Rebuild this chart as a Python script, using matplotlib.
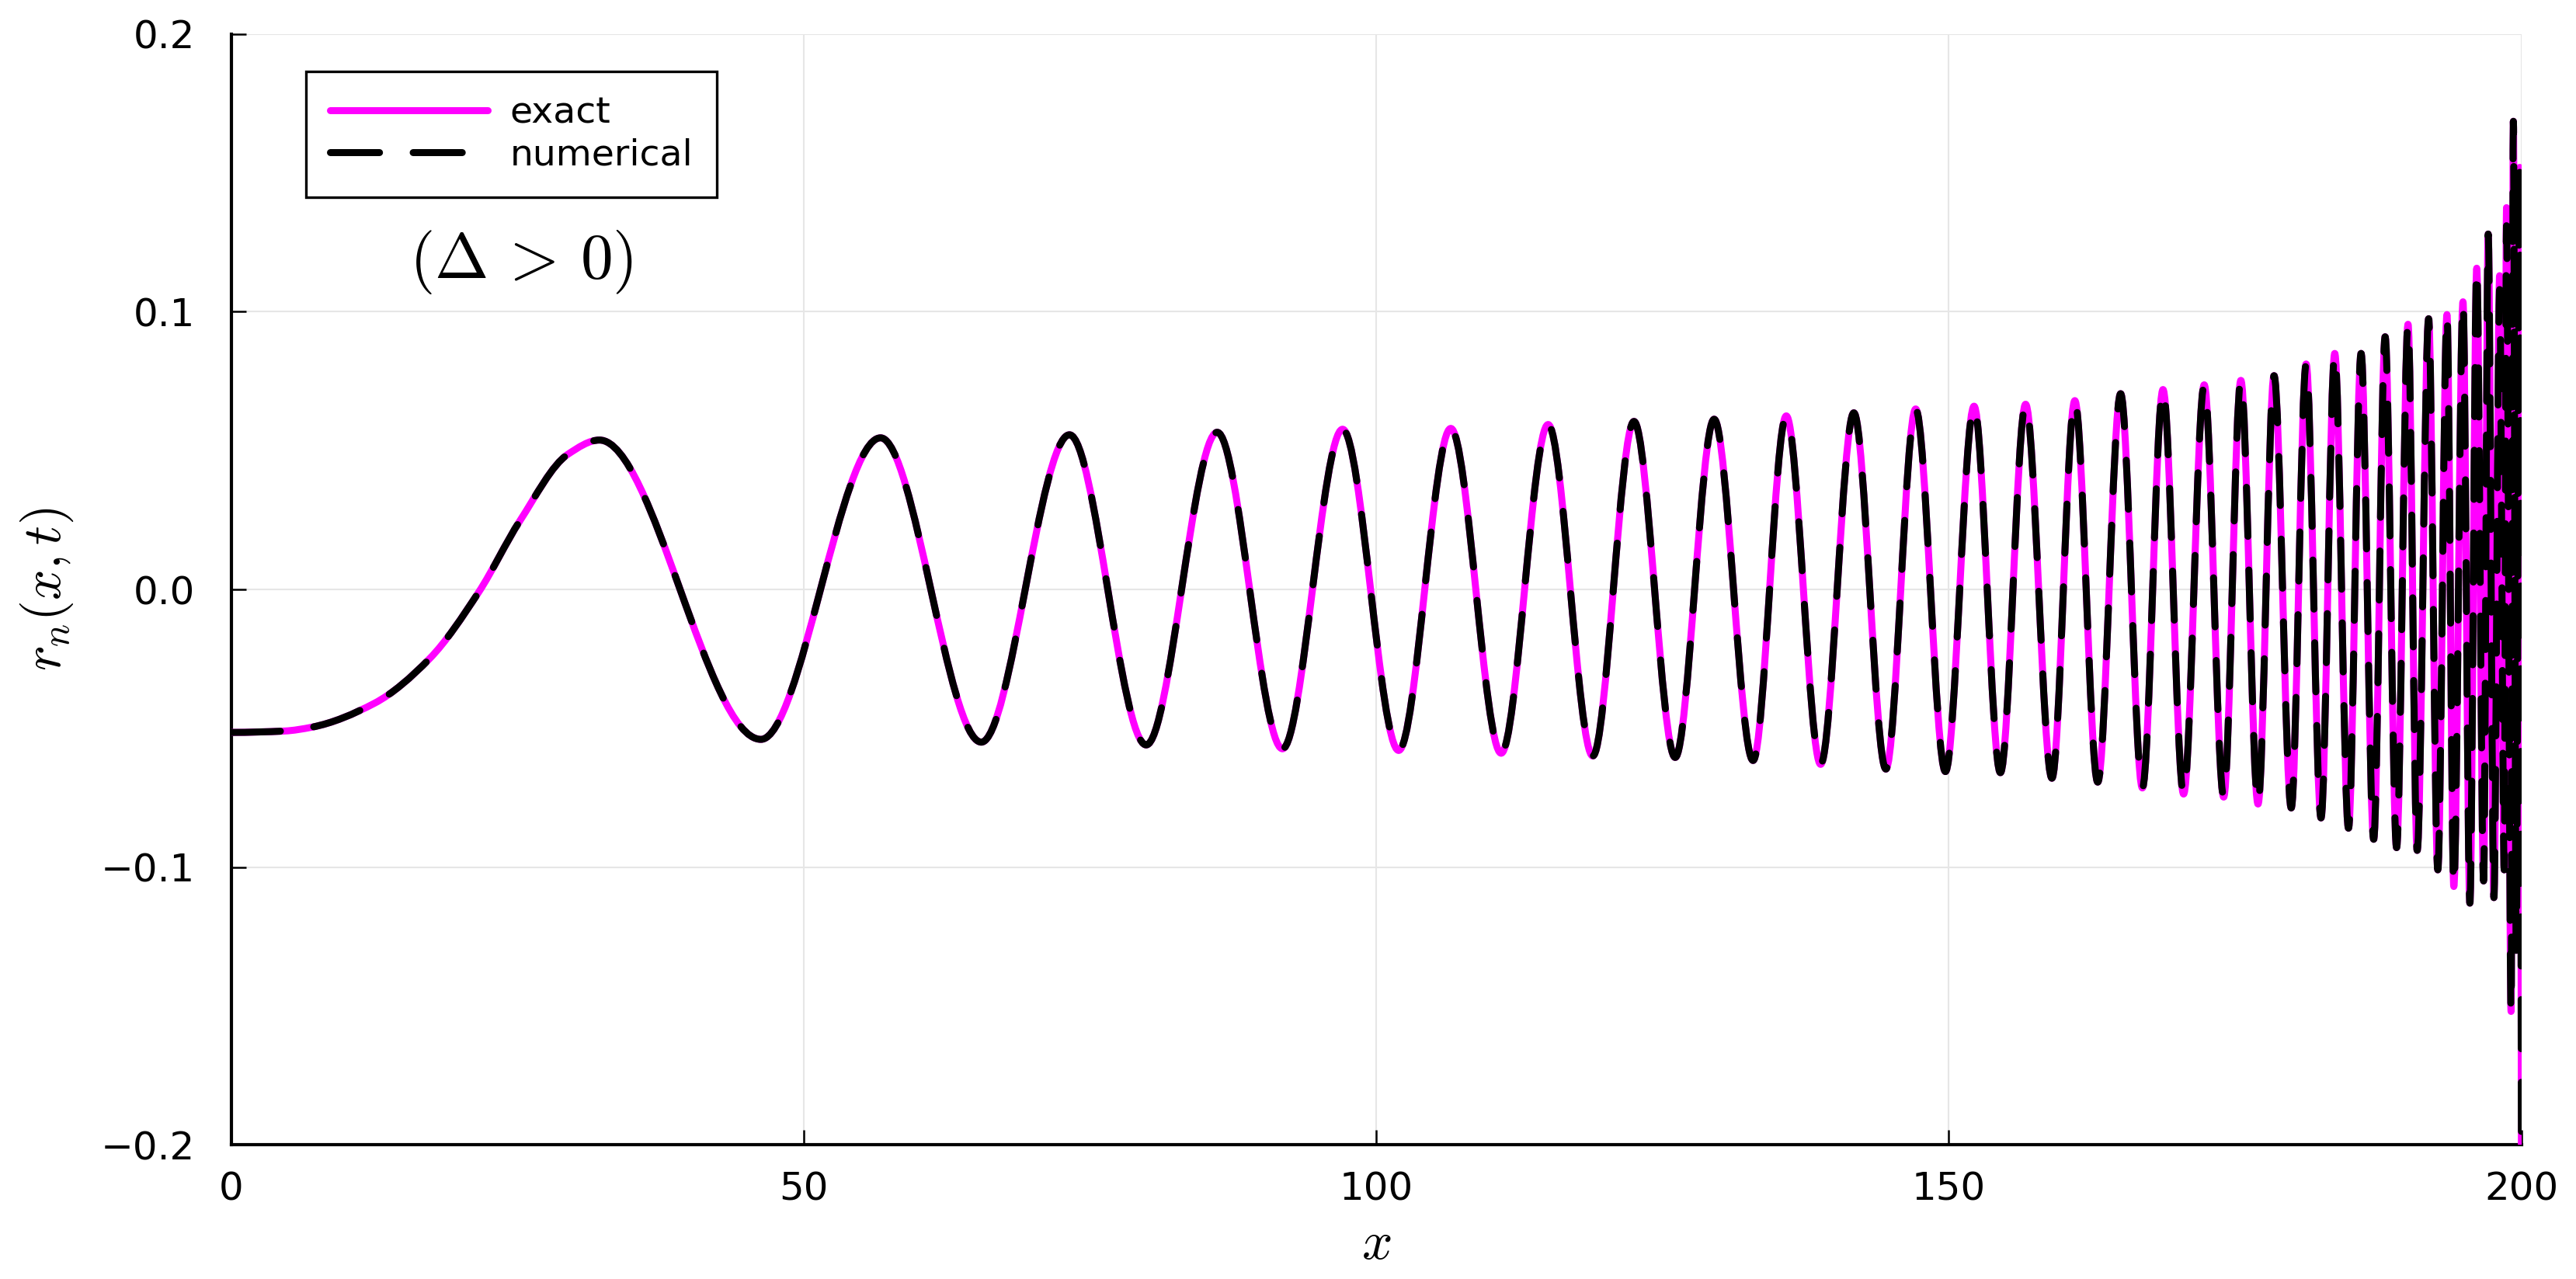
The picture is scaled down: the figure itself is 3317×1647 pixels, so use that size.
import numpy as np
import matplotlib
matplotlib.use('Agg')
import matplotlib.pyplot as plt
from matplotlib.path import Path
from matplotlib.patches import PathPatch
from matplotlib.lines import Line2D

plt.rcParams['font.family'] = 'DejaVu Sans'
plt.rcParams['mathtext.fontset'] = 'cm'

# =======================================================================================
# Points: a few points on the first rise, then every max / min
x_pts = [0.0, 4.65, 7.05, 12.5, 17.3, 21.6, 25.2, 29.4, 32.15,
         46.25, 56.7, 65.5, 73.2, 79.9, 86.1, 91.8, 97.05, 101.95,
         106.5, 110.9, 115.0, 118.9, 122.5, 126.1, 129.5, 132.9, 135.8, 138.8,
         141.7, 144.5, 147.1, 149.7, 152.2, 154.5, 156.7, 159.0, 161.0, 163.0,
         165.0, 166.9, 168.7, 170.5, 172.3, 174.0, 175.5, 177.0, 178.4, 179.9,
         181.2, 182.5, 183.7, 184.9, 186.0, 187.1, 188.1, 189.1, 190.1, 190.9,
         191.9, 192.7, 193.5, 194.1, 194.9, 195.5, 196.1, 196.7, 197.1, 197.6,
         198.1, 198.5, 198.7, 199.1, 199.3, 199.55, 199.85, 200.0]

y_exact = [-0.0515, -0.051, -0.0496, -0.041, -0.025, -0.001, 0.0247, 0.0487, 0.0538,
           -0.054, 0.0546, -0.055, 0.0557, -0.056, 0.0566, -0.0574, 0.0577, -0.058,
           0.058, -0.059, 0.0594, -0.060, 0.0605, -0.0605, 0.0613, -0.0616, 0.0625, -0.063,
           0.0636, -0.0647, 0.065, -0.0656, 0.066, -0.066, 0.0667, -0.068, 0.068, -0.0694,
           0.0705, -0.0715, 0.072, -0.0737, 0.0737, -0.0748, 0.0753, -0.0773, 0.077, -0.0787,
           0.0812, -0.0823, 0.085, -0.086, 0.085, -0.090, 0.091, -0.093, 0.0955, -0.094,
           0.0975, -0.101, 0.099, -0.107, 0.1036, -0.113, 0.1157, -0.105, 0.128, -0.111,
           0.113, -0.101, 0.1375, -0.152, 0.1686, -0.13, 0.152, -0.2]

# numerical solution differs only in the last few wiggles
num_tail_x = [198.1, 198.7]
num_tail_y = [0.108, 0.131]

y_num = list(y_exact)
for xt, yt in zip(num_tail_x, num_tail_y):
    y_num[x_pts.index(xt)] = yt

x_ticks = [0, 50, 100, 150, 200]
y_ticks = [-0.2, -0.1, 0.0, 0.1, 0.2]

# Styles
LW = 3.25       # line width [pt]
TKF = 18        # tick font
LGF = 17        # legend font
LBF = 25        # label font
magenta = '#ff00ff'
dash = (0, (7, 4.8))
# =======================================================================================


def smooth_path(x, y):
    """Cubic bezier path through the points, flat at every max / min"""
    x = np.asarray(x, float)
    y = np.asarray(y, float)
    h = np.diff(x)
    d = np.diff(y) / h
    m = np.zeros_like(x)
    for i in range(1, len(x) - 1):
        if d[i - 1] * d[i] > 0:
            w1 = 2 * h[i] + h[i - 1]
            w2 = h[i] + 2 * h[i - 1]
            m[i] = (w1 + w2) / (w1 / d[i - 1] + w2 / d[i])
    m[-1] = d[-1]

    verts = [(x[0], y[0])]
    codes = [Path.MOVETO]
    for i in range(len(x) - 1):
        verts += [(x[i] + h[i] / 3, y[i] + m[i] * h[i] / 3),
                  (x[i + 1] - h[i] / 3, y[i + 1] - m[i + 1] * h[i] / 3),
                  (x[i + 1], y[i + 1])]
        codes += [Path.CURVE4] * 3
    return Path(verts, codes)


fig = plt.figure(figsize=(3317 / 200, 1647 / 200), dpi=200)
ax = fig.add_axes([0.0898, 0.105, 0.889, 0.8683])

p_exact = PathPatch(smooth_path(x_pts, y_exact), fill=False, ec=magenta, lw=LW,
                    capstyle='round', joinstyle='round', zorder=3)
p_num = PathPatch(smooth_path(x_pts, y_num), fill=False, ec='black', lw=LW, ls=dash,
                  capstyle='round', joinstyle='round', zorder=4)
ax.add_patch(p_exact)
ax.add_patch(p_num)

ax.set_xlim(0, 200)
ax.set_ylim(-0.2, 0.2)
ax.set_xticks(x_ticks)
ax.set_yticks(y_ticks)
ax.grid(True, color='#e6e6e6', lw=0.75)
ax.set_axisbelow(True)

for side in ['top', 'right']:
    ax.spines[side].set_visible(False)
for side in ['left', 'bottom']:
    ax.spines[side].set_linewidth(1.5)
ax.tick_params(direction='in', length=7, width=0.9, labelsize=TKF)
ax.tick_params(axis='y', pad=17)
ax.tick_params(axis='x', pad=12)

ax.set_xlabel(r'$x$', fontsize=LBF, va='center')
ax.xaxis.set_label_coords(0.5, -0.089)
ax.set_ylabel(r'$r_n(x,t)$', fontsize=LBF, va='center')
ax.yaxis.set_label_coords(-0.0804, 0.5)

ax.text(25.3, 0.118, r'$(\Delta \,>\, 0)$', fontsize=30, ha='center', va='center')

# Legend
custom_lines = [Line2D([0], [0], c=magenta, lw=LW, solid_capstyle='round', label='exact'),
                Line2D([0], [0], c='black', lw=LW, ls=dash, dash_capstyle='round', label='numerical')]
lg = ax.legend(handles=custom_lines, loc='upper left', bbox_to_anchor=(0.0326, 0.9664),
               borderaxespad=0, fontsize=LGF, handlelength=4.3, handletextpad=0.6,
               borderpad=0.66, labelspacing=0.2, fancybox=False, framealpha=1,
               edgecolor='black')
lg.get_frame().set_linewidth(1.2)

fig.savefig('out.png', dpi=200)
